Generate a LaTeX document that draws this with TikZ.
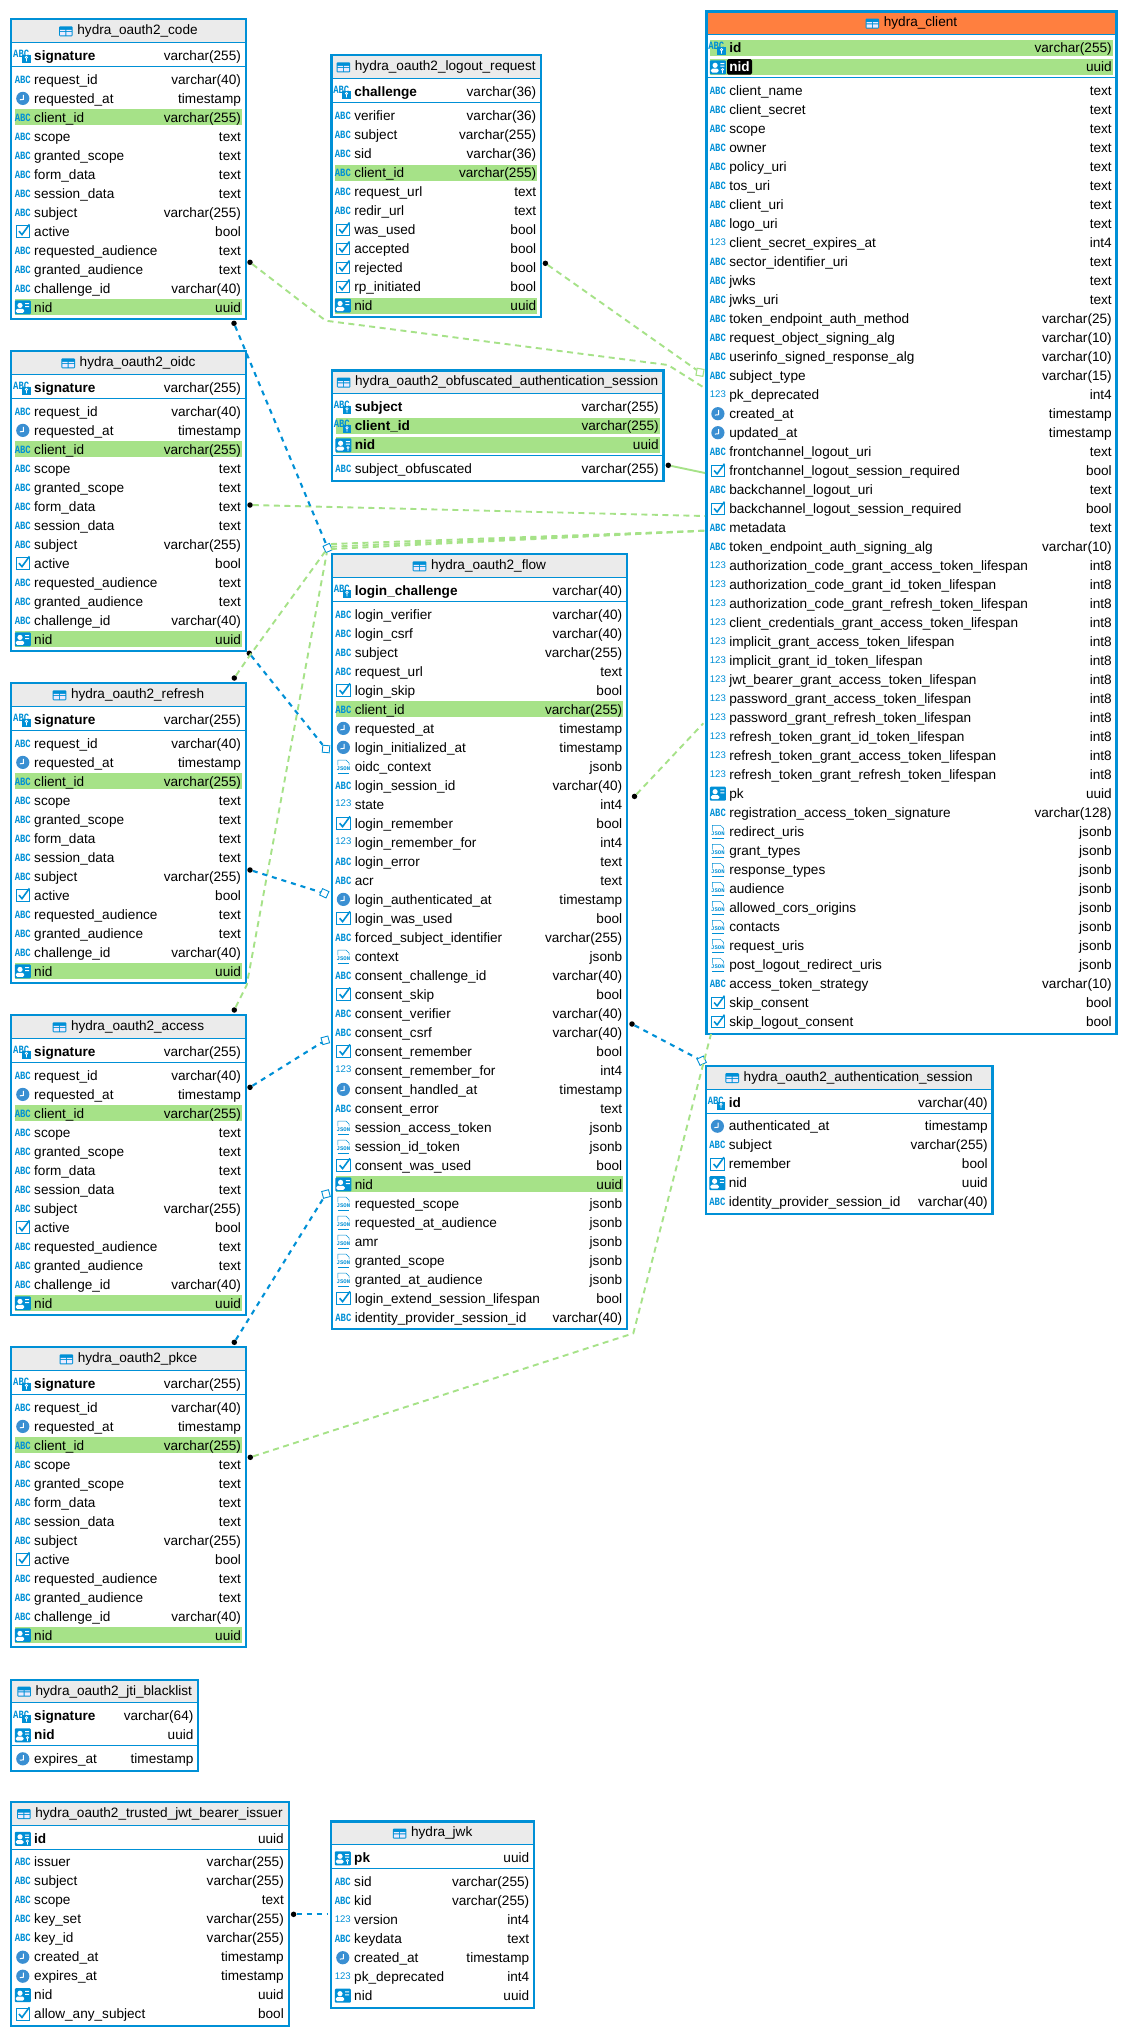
\documentclass[tikz,border=0pt]{standalone}
\usepackage{fontspec}
\setmainfont{Liberation Sans}
\newfontfamily\icofont{Liberation Mono}
\usetikzlibrary{positioning, calc}
\catcode`\_=12
\definecolor{dbblue}{HTML}{0090D6}
\definecolor{clockblue}{HTML}{3A8FD2}
\definecolor{fkgreen}{HTML}{A6E288}
\definecolor{headgray}{HTML}{EBEBEB}
\definecolor{headorange}{HTML}{FF7F3F}
\newcommand{\dbfont}{\fontsize{13.6}{15}\selectfont}
\tikzset{%
	tabframe/.style={draw=dbblue, line width=2.1pt, rectangle, inner sep=0pt, outer sep=0pt},
	tabhead/.style={fill=headgray, rectangle, minimum height=23.1pt, inner sep=0pt, outer sep=0pt},
	mainhead/.style={tabhead, fill=headorange},
	tabtitle/.style={font=\dbfont, inner sep=0pt, text height=9.8pt, text depth=3pt},
	tabrule/.style={draw=dbblue, line width=1pt},
	rowband/.style={rectangle, minimum height=16pt, inner sep=0pt, outer sep=0pt},
	bandn/.style={},
	bandh/.style={fill=fkgreen},
	bands/.style={fill=fkgreen},
	colname/.style={font=\dbfont, inner sep=0pt},
	colkey/.style={font=\dbfont\bfseries, inner sep=0pt},
	coltype/.style={font=\dbfont, inner sep=0pt},
	namen/.style={},
	nameh/.style={},
	names/.style={fill=black, text=white, rounded corners=1.5pt, inner xsep=2.3pt, inner ysep=2.8pt, xshift=-2.3pt},
	icotext/.style={font=\icofont\bfseries\fontsize{8.9}{8}\selectfont, text=dbblue, inner sep=0pt, yscale=1.25, transform shape},
	iconum/.style={font=\fontsize{9.6}{9}\selectfont, text=dbblue, inner sep=0pt},
	icojson/.style={font=\icofont\bfseries\fontsize{5.6}{5}\selectfont, text=dbblue, inner sep=0pt},
	jdot/.style={circle, fill=black, minimum size=5.5pt, inner sep=0pt},
	fkblue/.style={draw=dbblue, rectangle, fill=white, line width=0.9pt, minimum size=7pt, inner sep=0pt},
	fkgrn/.style={fkblue, draw=fkgreen, line width=1.1pt},
	glink/.style={draw=fkgreen, line width=1.9pt, dash pattern=on 6pt off 4.5pt},
	gsolid/.style={draw=fkgreen, line width=1.9pt},
	blink/.style={draw=dbblue, line width=2.1pt, dash pattern=on 5pt off 5pt},
	tabc/.pic={\node[icotext] (-t) {ABC};},
	tnum/.pic={\node[iconum] (-t) at (0,-1) {123};},
	tkabc/.pic={\node[icotext] (-t) at (-1.6,-1.7) {ABC};
		\fill[dbblue] (-0.9,-0.7) rectangle (8,7);
		\draw[white, line width=0.7pt] (3.6,1.7) circle (1.2pt) (3.6,2.9) -- (3.6,5.6);},
	tcard/.pic={\fill[dbblue, rounded corners=1pt] (-8,-7) rectangle (8,7);
		\fill[white] (-2.8,-2) circle (2.6pt);
		\fill[white, rounded corners=1.5pt] (-7,5.5) rectangle (1.4,1.4);
		\fill[white] (2.4,-4.3) rectangle (6.4,-3.3) (2.4,-1.3) rectangle (6.4,-0.3);},
	tkcard/.pic={\fill[dbblue, rounded corners=1pt] (-8,-6.7) rectangle (8,7.3);
		\fill[white] (-2.8,-1.7) circle (2.6pt);
		\fill[white, rounded corners=1.5pt] (-7,5.5) rectangle (0.8,1.6);
		\fill[white] (2.4,-4) rectangle (6.4,-3) (2.4,-1.5) rectangle (6.4,-0.5);
		\fill[dbblue] (1.3,0.6) rectangle (8,7.3);
		\draw[white, line width=0.7pt] (4.6,2.6) circle (1.1pt) (4.6,3.7) -- (4.6,6);},
	tclock/.pic={\fill[clockblue] (0,0) circle (6.6pt);
		\draw[white, line width=1pt] (0.6,-3.6) -- (0.6,1) -- (-3,1.4);},
	tbool/.pic={\draw[dbblue, line width=0.7pt] (-6.6,-5.6) rectangle (6.6,6);
		\draw[dbblue, line width=1.6pt] (-3.8,-0.2) -- (-0.8,3.2) -- (6.6,-7);},
	tjson/.pic={\draw[dbblue, line width=0.5pt] (-5.6,-1) -- (-5.6,-6.3) -- (2.6,-6.3) -- (5.6,-3.4) -- (5.6,-1);
		\draw[dbblue, line width=0.5pt] (-5.6,6.4) -- (5.6,6.4);
		\node[icojson] (-t) at (0,2.4) {JSON};},
	ttable/.pic={\fill[dbblue, rounded corners=1pt] (-6.8,-5) rectangle (6.8,5);
		\fill[blue!8] (-5.8,-1.4) rectangle (-0.5,-0.2) (0.5,-1.4) rectangle (5.8,-0.2)
			(-5.8,0.8) rectangle (-0.5,4) (0.5,0.8) rectangle (5.8,4);}
}
% one line of a table, takes \ic \nm \ty \hl from the loop
\newcommand{\dbrow}[5]{%
	\pgfmathsetmacro\rw{#3-#2-7.3}
	\node[rowband, band\hl, minimum width=\rw pt, anchor=west] (#1-band) at (#2+3.6,#4) {};
	\pic (#1-ico) at (#2+11.4,#4) {\ic};
	\node[#5, name\hl, anchor=base west] (#1-name) at (#2+22.6,#4+4.7) {\nm};
	\node[coltype, anchor=base east] (#1-type) at (#3-4.6,#4+4.7) {\ty};
}
\newcommand{\dbtable}[8][tabhead]{%
	\pgfmathsetmacro\tw{#4-#3}
	\edef\keylist{#7}
	\edef\rowlist{#8}
	\node[#1, minimum width=\tw pt, anchor=north west] (#2-head) at (#3,#5) {};
	\node[tabtitle] (#2-title) at ($(#2-head.center)+(9,0.5)$) {#6};
	\pic (#2-tico) at ($(#2-title.west)+(-11.3,0)$) {ttable};
	\draw[tabrule] (#2-head.south west) -- (#2-head.south east);
	\foreach \ic/\nm/\ty/\hl [count=\i] in \keylist {
		\pgfmathsetmacro\ry{#5+36.5+19*(\i-1)}
		\dbrow{#2-k\i}{#3}{#4}{\ry}{colkey}
		\xdef\lasty{\ry}
	}
	\pgfmathsetmacro\sy{\lasty+10.7}
	\coordinate (#2-sl) at (#3,\sy);
	\coordinate (#2-sr) at (#4,\sy);
	\draw[tabrule] (#2-sl) -- (#2-sr);
	\foreach \ic/\nm/\ty/\hl [count=\i] in \rowlist {
		\pgfmathsetmacro\ry{\sy+13+19*(\i-1)}
		\dbrow{#2-r\i}{#3}{#4}{\ry}{colname}
		\xdef\lasty{\ry}
	}
	\pgfmathsetmacro\th{\lasty+11.9-#5}
	\node[tabframe, minimum width=\tw pt, minimum height=\th pt, anchor=north west] (#2) at (#3,#5) {};
}
\newcommand{\oauthkeys}{tkabc/signature/varchar(255)/n}
\newcommand{\oauthrows}{tabc/request_id/varchar(40)/n, tclock/requested_at/timestamp/n,
	tabc/client_id/varchar(255)/h, tabc/scope/text/n, tabc/granted_scope/text/n,
	tabc/form_data/text/n, tabc/session_data/text/n, tabc/subject/varchar(255)/n,
	tbool/active/bool/n, tabc/requested_audience/text/n, tabc/granted_audience/text/n,
	tabc/challenge_id/varchar(40)/n, tcard/nid/uuid/h}
\begin{document}
\begin{tikzpicture}[x=1pt, y=-1pt]
	\path[fill=white, use as bounding box] (0,0) rectangle (1128,2037);

	\dbtable{code}{11.4}{245.7}{19.2}{hydra_oauth2_code}{\oauthkeys}{\oauthrows}
	\dbtable{oidc}{11.4}{245.7}{351.2}{hydra_oauth2_oidc}{\oauthkeys}{\oauthrows}
	\dbtable{refresh}{11.4}{245.7}{683.2}{hydra_oauth2_refresh}{\oauthkeys}{\oauthrows}
	\dbtable{access}{11.4}{245.7}{1015.2}{hydra_oauth2_access}{\oauthkeys}{\oauthrows}
	\dbtable{pkce}{11.4}{245.7}{1347.2}{hydra_oauth2_pkce}{\oauthkeys}{\oauthrows}

	\dbtable{logout}{331.5}{541}{55.3}{hydra_oauth2_logout_request}{tkabc/challenge/varchar(36)/n}{%
		tabc/verifier/varchar(36)/n, tabc/subject/varchar(255)/n, tabc/sid/varchar(36)/n,
		tabc/client_id/varchar(255)/h, tabc/request_url/text/n, tabc/redir_url/text/n,
		tbool/was_used/bool/n, tbool/accepted/bool/n, tbool/rejected/bool/n,
		tbool/rp_initiated/bool/n, tcard/nid/uuid/h}

	\dbtable{obfus}{332}{663.5}{370.5}{hydra_oauth2_obfuscated_authentication_session}{%
		tkabc/subject/varchar(255)/n, tkabc/client_id/varchar(255)/h, tkcard/nid/uuid/h}{%
		tabc/subject_obfuscated/varchar(255)/n}

	\dbtable{flow}{332}{627}{554.2}{hydra_oauth2_flow}{tkabc/login_challenge/varchar(40)/n}{%
		tabc/login_verifier/varchar(40)/n, tabc/login_csrf/varchar(40)/n, tabc/subject/varchar(255)/n,
		tabc/request_url/text/n, tbool/login_skip/bool/n, tabc/client_id/varchar(255)/h,
		tclock/requested_at/timestamp/n, tclock/login_initialized_at/timestamp/n,
		tjson/oidc_context/jsonb/n, tabc/login_session_id/varchar(40)/n, tnum/state/int4/n,
		tbool/login_remember/bool/n, tnum/login_remember_for/int4/n, tabc/login_error/text/n,
		tabc/acr/text/n, tclock/login_authenticated_at/timestamp/n, tbool/login_was_used/bool/n,
		tabc/forced_subject_identifier/varchar(255)/n, tjson/context/jsonb/n,
		tabc/consent_challenge_id/varchar(40)/n, tbool/consent_skip/bool/n,
		tabc/consent_verifier/varchar(40)/n, tabc/consent_csrf/varchar(40)/n,
		tbool/consent_remember/bool/n, tnum/consent_remember_for/int4/n,
		tclock/consent_handled_at/timestamp/n, tabc/consent_error/text/n,
		tjson/session_access_token/jsonb/n, tjson/session_id_token/jsonb/n,
		tbool/consent_was_used/bool/n, tcard/nid/uuid/h, tjson/requested_scope/jsonb/n,
		tjson/requested_at_audience/jsonb/n, tjson/amr/jsonb/n, tjson/granted_scope/jsonb/n,
		tjson/granted_at_audience/jsonb/n, tbool/login_extend_session_lifespan/bool/n,
		tabc/identity_provider_session_id/varchar(40)/n}

	\dbtable[mainhead]{client}{706.5}{1116.5}{11.5}{hydra_client}{%
		tkabc/id/varchar(255)/h, tkcard/nid/uuid/s}{%
		tabc/client_name/text/n, tabc/client_secret/text/n, tabc/scope/text/n, tabc/owner/text/n,
		tabc/policy_uri/text/n, tabc/tos_uri/text/n, tabc/client_uri/text/n, tabc/logo_uri/text/n,
		tnum/client_secret_expires_at/int4/n, tabc/sector_identifier_uri/text/n, tabc/jwks/text/n,
		tabc/jwks_uri/text/n, tabc/token_endpoint_auth_method/varchar(25)/n,
		tabc/request_object_signing_alg/varchar(10)/n, tabc/userinfo_signed_response_alg/varchar(10)/n,
		tabc/subject_type/varchar(15)/n, tnum/pk_deprecated/int4/n, tclock/created_at/timestamp/n,
		tclock/updated_at/timestamp/n, tabc/frontchannel_logout_uri/text/n,
		tbool/frontchannel_logout_session_required/bool/n, tabc/backchannel_logout_uri/text/n,
		tbool/backchannel_logout_session_required/bool/n, tabc/metadata/text/n,
		tabc/token_endpoint_auth_signing_alg/varchar(10)/n,
		tnum/authorization_code_grant_access_token_lifespan/int8/n,
		tnum/authorization_code_grant_id_token_lifespan/int8/n,
		tnum/authorization_code_grant_refresh_token_lifespan/int8/n,
		tnum/client_credentials_grant_access_token_lifespan/int8/n,
		tnum/implicit_grant_access_token_lifespan/int8/n,
		tnum/implicit_grant_id_token_lifespan/int8/n,
		tnum/jwt_bearer_grant_access_token_lifespan/int8/n,
		tnum/password_grant_access_token_lifespan/int8/n,
		tnum/password_grant_refresh_token_lifespan/int8/n,
		tnum/refresh_token_grant_id_token_lifespan/int8/n,
		tnum/refresh_token_grant_access_token_lifespan/int8/n,
		tnum/refresh_token_grant_refresh_token_lifespan/int8/n, tcard/pk/uuid/n,
		tabc/registration_access_token_signature/varchar(128)/n, tjson/redirect_uris/jsonb/n,
		tjson/grant_types/jsonb/n, tjson/response_types/jsonb/n, tjson/audience/jsonb/n,
		tjson/allowed_cors_origins/jsonb/n, tjson/contacts/jsonb/n, tjson/request_uris/jsonb/n,
		tjson/post_logout_redirect_uris/jsonb/n, tabc/access_token_strategy/varchar(10)/n,
		tbool/skip_consent/bool/n, tbool/skip_logout_consent/bool/n}

	\dbtable{authsess}{706}{992.5}{1066}{hydra_oauth2_authentication_session}{tkabc/id/varchar(40)/n}{%
		tclock/authenticated_at/timestamp/n, tabc/subject/varchar(255)/n, tbool/remember/bool/n,
		tcard/nid/uuid/n, tabc/identity_provider_session_id/varchar(40)/n}

	\dbtable{jti}{11.4}{198.2}{1679.6}{hydra_oauth2_jti_blacklist}{%
		tkabc/signature/varchar(64)/n, tkcard/nid/uuid/n}{tclock/expires_at/timestamp/n}

	\dbtable{trusted}{11.4}{288.6}{1802}{hydra_oauth2_trusted_jwt_bearer_issuer}{tkcard/id/uuid/n}{%
		tabc/issuer/varchar(255)/n, tabc/subject/varchar(255)/n, tabc/scope/text/n,
		tabc/key_set/varchar(255)/n, tabc/key_id/varchar(255)/n, tclock/created_at/timestamp/n,
		tclock/expires_at/timestamp/n, tcard/nid/uuid/n, tbool/allow_any_subject/bool/n}

	\dbtable{jwk}{331.4}{534}{1821.5}{hydra_jwk}{tkcard/pk/uuid/n}{%
		tabc/sid/varchar(255)/n, tabc/kid/varchar(255)/n, tnum/version/int4/n, tabc/keydata/text/n,
		tclock/created_at/timestamp/n, tnum/pk_deprecated/int4/n, tcard/nid/uuid/n}

	% end points of the links
	\node[fkgrn, rotate=-10] (clientfk) at (700,372.3) {};
	\node[fkblue, rotate=25] (flowfk) at (327.7,548) {};
	\node[fkblue, rotate=-5] (flowfka) at (326,749) {};
	\node[fkblue, rotate=-25] (flowfkb) at (324.3,893.3) {};
	\node[fkblue, rotate=15] (flowfkc) at (325.3,1040.3) {};
	\node[fkblue, rotate=15] (flowfkd) at (326,1194) {};
	\node[fkblue, rotate=25] (authfk) at (701.7,1060.7) {};

	\node[jdot] (codeg) at (250,262.3) {};
	\node[jdot] (logoutg) at (545.4,263.3) {};
	\node[jdot] (obfusg) at (668.3,465.3) {};
	\node[jdot] (oidcg) at (250,505) {};
	\node[jdot] (refreshg) at (234.3,678) {};
	\node[jdot] (accessg) at (234.3,1010) {};
	\node[jdot] (pkceg) at (250.3,1457.3) {};
	\node[jdot] (flowg) at (634.5,796.4) {};
	\node[jdot] (codeb) at (234,323.3) {};
	\node[jdot] (oidcb) at (249.3,653.3) {};
	\node[jdot] (refreshb) at (250,870) {};
	\node[jdot] (accessb) at (250,1087.3) {};
	\node[jdot] (pkceb) at (234.3,1342.3) {};
	\node[jdot] (flowb) at (632,1024) {};
	\node[jdot] (trustedb) at (293.6,1914.3) {};

	\coordinate (codea) at (325.7,320.7);
	\coordinate (codec) at (668,365);
	\coordinate (clienta) at (703,387);
	\coordinate (clientb) at (705,473);
	\coordinate (clientc) at (705,516);
	\coordinate (clientd) at (705,530.7);
	\coordinate (cliente) at (703.3,723.3);
	\coordinate (clientf) at (711,1034);
	\coordinate (refresha) at (248,658);
	\coordinate (accessa) at (246.7,985);
	\coordinate (pkcea) at (633.3,1333.3);
	\coordinate (jwkend) at (326.8,1914.3);

	\draw[glink] (codeg) -- (codea) -- (codec) -- (clienta);
	\draw[glink] (logoutg) -- (clientfk);
	\draw[gsolid] (obfusg) -- (clientb);
	\draw[glink] (oidcg) -- (clientc);
	\foreach \n/\yy in {a/544, b/546.7, c/549} {
		\coordinate (flowg\n) at (331,\yy);
		\draw[glink] (flowg\n) -- (clientd);
	}
	\draw[glink] (refreshg) -- (refresha) -- (flowfk);
	\draw[glink] (accessg) -- (accessa) -- (flowfk);
	\draw[glink] (pkceg) -- (pkcea) -- (clientf);
	\draw[glink] (flowg) -- (cliente);

	\draw[blink] (codeb) -- (flowfk);
	\draw[blink] (oidcb) -- (flowfka);
	\draw[blink] (refreshb) -- (flowfkb);
	\draw[blink] (accessb) -- (flowfkc);
	\draw[blink] (pkceb) -- (flowfkd);
	\draw[blink] (flowb) -- (authfk);
	\draw[blink] (trustedb) -- (jwkend);
\end{tikzpicture}
\end{document}
